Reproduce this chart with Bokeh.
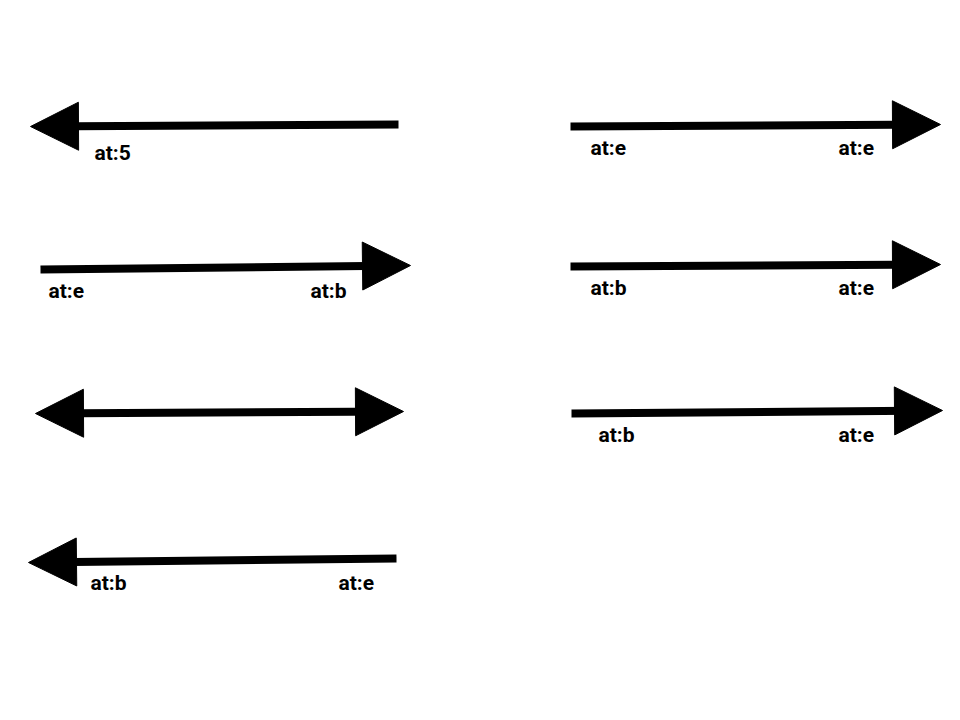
from bokeh.plotting import figure
from bokeh.models import Range1d, Arrow, NormalHead, ColumnDataSource
from bokeh.core.properties import value
from bokeh.embed import file_html
from bokeh.resources import INLINE

# arrows in screen-pixel coordinates (start -> end, head at end)
x_start = [398, 570, 40, 570, 571, 396]
y_start = [124, 126, 269, 266, 413, 558]
x_end = [30, 940, 410, 940, 942, 28]
y_end = [126, 124, 265, 264, 410, 562]

# double headed arrow
dbl_x = [35, 403]
dbl_y = [413, 411]

label_text = ["at:5", "at:e", "at:e", "at:e", "at:b", "at:b", "at:e", "at:b", "at:e", "at:b", "at:e"]
label_x = [94, 590, 838, 48, 310, 590, 838, 598, 838, 90, 338]
label_y = [152, 147, 147, 290, 290, 287, 287, 434, 434, 582, 582]

p = figure(width=944, height=704, output_backend="svg", toolbar_location=None,
           x_range=Range1d(0, 944), y_range=Range1d(704, 0), min_border=0)
p.axis.visible = False
p.grid.visible = False
p.outline_line_color = None

src = ColumnDataSource(dict(x0=x_start, y0=y_start, x1=x_end, y1=y_end))
p.add_layout(Arrow(x_start="x0", y_start="y0", x_end="x1", y_end="y1", source=src,
                   line_width=8, line_color="black",
                   end=NormalHead(size=48, fill_color="black", line_color="black")))
p.add_layout(Arrow(x_start=dbl_x[0], y_start=dbl_y[0], x_end=dbl_x[1], y_end=dbl_y[1],
                   line_width=8, line_color="black",
                   start=NormalHead(size=48, fill_color="black", line_color="black"),
                   end=NormalHead(size=48, fill_color="black", line_color="black")))

p.text(x=label_x, y=label_y, text=label_text, text_font=value("Roboto"),
       text_font_style="bold", text_font_size="21px", text_color="black",
       text_align="left", text_baseline="middle")

open("out.html", "w").write(file_html(p, INLINE))
